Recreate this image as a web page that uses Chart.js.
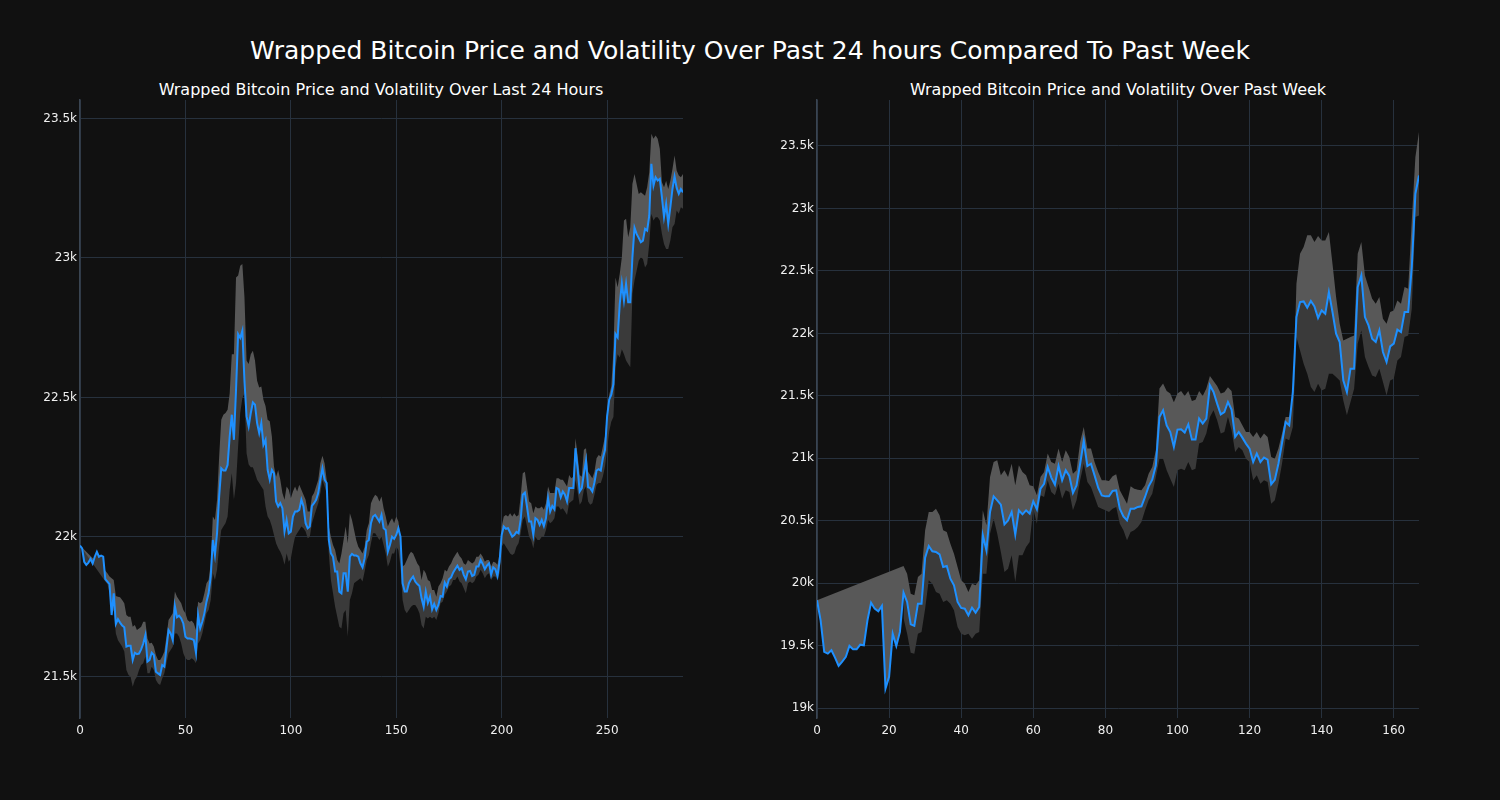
<!DOCTYPE html>
<html>
<head>
<meta charset="utf-8">
<script src="https://cdn.jsdelivr.net/npm/chart.js@4.4.0/dist/chart.umd.min.js"></script>
<style>
  html, body { margin:0; padding:0; background:#111111; }
  #wrap { position:relative; width:1500px; height:800px; background:#111111; overflow:hidden; font-family:"DejaVu Sans", sans-serif; }
  .t { position:absolute; color:#ffffff; white-space:nowrap; transform:translate(-50%,-50%); }
  canvas { position:absolute; top:0; }
</style>
</head>
<body>
<div id="wrap">
  <div class="t" style="left:750px; top:50px; font-size:25px;">Wrapped Bitcoin Price and Volatility Over Past 24 hours Compared To Past Week</div>
  <div class="t" style="left:381px; top:89px; font-size:16px;">Wrapped Bitcoin Price and Volatility Over Last 24 Hours</div>
  <div class="t" style="left:1118px; top:89px; font-size:16px;">Wrapped Bitcoin Price and Volatility Over Past Week</div>
  <canvas id="c1" width="750" height="800" style="left:0px;"></canvas>
  <canvas id="c2" width="750" height="800" style="left:750px;"></canvas>
</div>
<script>
// ---------- Last 24 hours (5-minute steps) ----------
const price24 = [21969,21959,21911,21900,21908,21921,21905,21929,21947,21929,21933,21929,21849,21840,21831,21720,21798,21688,21705,21693,
21682,21676,21607,21610,21610,21559,21585,21580,21582,21597,21618,21648,21553,21559,21585,21577,21517,21511,21505,21541,
21535,21601,21666,21654,21630,21752,21712,21718,21708,21690,21642,21636,21636,21634,21630,21585,21720,21672,21696,21726,
21768,21798,21858,21989,21935,22013,22145,22246,22238,22238,22258,22360,22438,22348,22527,22727,22713,22739,22560,22432,
22396,22444,22482,22474,22408,22372,22408,22330,22348,22240,22205,22240,22228,22127,22109,22121,22103,22019,22061,22013,
22019,22073,22091,22091,22097,22133,22109,22049,22031,22037,22111,22121,22133,22157,22205,22246,22205,22193,21989,21941,
21929,21876,21876,21804,21798,21870,21870,21804,21929,21939,21933,21933,21929,21905,21891,21923,21983,21989,22049,22073,
22079,22067,22055,22079,22031,22025,21947,21971,22001,21993,22007,22031,22001,21834,21804,21804,21834,21848,21858,21840,
21831,21824,21780,21750,21804,21764,21786,21740,21760,21738,21756,21788,21786,21836,21822,21848,21855,21873,21885,21897,
21882,21888,21864,21848,21876,21878,21860,21864,21894,21894,21917,21903,21884,21897,21905,21864,21891,21884,21860,21911,
22007,22037,22029,22031,22016,22001,22007,22018,22013,22061,22151,22159,22109,22055,22055,22007,22067,22061,22043,22061,
22039,22067,22139,22091,22111,22099,22175,22171,22142,22163,22151,22127,22175,22175,22175,22318,22246,22163,22175,22228,
22274,22178,22175,22163,22195,22238,22243,22238,22282,22312,22432,22492,22510,22548,22727,22715,22835,22909,22847,22907,
22841,22841,23002,23108,23086,23072,23056,23062,23104,23098,23152,23337,23259,23289,23277,23283,23218,23146,23194,23122,
23182,23247,23292,23251,23230,23247,23235];

const upper24 = [21969,null,null,null,null,null,null,null,null,null,null,null,21879,21870,21858,21852,21846,21788,21786,21784,
21774,21762,21720,21714,21714,21678,21684,21666,21672,21678,21696,21696,21636,21618,21621,21607,21577,21559,21559,21571,
21589,21642,21702,21714,21726,21804,21786,21774,21762,21738,21726,21702,21696,21700,21690,21666,21768,21762,21768,21798,
21834,21846,21906,22073,22061,22133,22288,22420,22438,22444,22456,22515,22655,22655,22930,22937,22972,22978,22859,22632,
22620,22655,22667,22632,22560,22536,22539,22492,22469,22420,22415,22360,22252,22216,22240,22205,22157,22133,22181,22169,
22139,22163,22181,22163,22187,22169,22151,22133,22091,22091,22145,22157,22181,22205,22264,22291,22264,22205,22037,22001,
21971,21953,21917,21905,21941,21989,22037,21977,22085,22061,22025,21989,21965,21953,21941,21965,22025,22049,22121,22139,
22151,22145,22127,22145,22103,22073,22037,22055,22067,22049,22073,22055,22001,21894,21900,21917,21935,21947,21941,21923,
21905,21894,21846,21882,21870,21846,21840,21810,21810,21786,21822,21834,21852,21882,21876,21894,21905,21923,21935,21947,
21932,21923,21905,21900,21917,21911,21905,21911,21929,21929,21941,21929,21911,21917,21917,21894,21911,21908,21900,21941,
22037,22073,22079,22073,22085,22073,22085,22073,22079,22145,22228,22234,22181,22127,22121,22085,22109,22103,22103,22109,
22097,22121,22181,22157,22157,22157,22210,22210,22205,22205,22193,22181,22222,22210,22216,22354,22294,22222,22216,22312,
22318,22234,22222,22210,22234,22282,22294,22288,22324,22360,22450,22510,22540,22667,22930,22895,22943,23002,23134,23140,
23074,23110,23265,23301,23265,23229,23235,23229,23223,23253,23307,23445,23427,23439,23427,23391,23271,23253,23277,23247,
23277,23319,23367,23313,23295,23289,23301];

const lower24 = [21969,null,null,null,null,null,null,null,null,null,null,null,21840,21831,21798,21720,21738,21654,21630,21618,
21606,21589,21523,21505,21499,21463,21487,21499,21523,21541,21547,21571,21511,21511,21535,21523,21487,21475,21469,21493,
21511,21547,21583,21595,21606,21654,21654,21642,21618,21583,21565,21559,21559,21565,21559,21547,21618,21630,21654,21690,
21726,21738,21774,21870,21846,21882,21965,22025,22037,22049,22073,22169,22228,22133,22193,22324,22444,22497,22515,22300,
22260,22250,22250,22228,22205,22193,22181,22169,22109,22073,22061,22037,22007,21977,21959,21947,21929,21900,21941,21911,
21923,21965,22001,22013,22025,22037,22031,22019,21995,22001,22049,22073,22097,22121,22157,22205,22181,22157,21941,21846,
21798,21750,21714,21678,21672,21726,21738,21642,21774,21798,21834,21840,21846,21852,21840,21876,21917,21935,21977,22013,
22013,22001,21989,22001,21971,21941,21893,21911,21941,21941,21965,21953,21893,21774,21738,21726,21738,21750,21756,21756,
21744,21726,21684,21672,21714,21708,21714,21708,21714,21702,21726,21762,21768,21792,21804,21822,21828,21846,21846,21858,
21840,21834,21816,21798,21834,21840,21834,21840,21858,21864,21882,21870,21852,21864,21870,21846,21858,21858,21846,21870,
21965,21977,21965,21953,21941,21935,21941,21965,21977,22013,22061,22073,22037,22001,21989,21959,22001,21989,21989,22001,
22001,22025,22061,22049,22055,22067,22109,22109,22097,22103,22091,22079,22121,22127,22133,22205,22163,22115,22127,22169,
22181,22127,22115,22121,22151,22187,22193,22193,22217,22252,22312,22378,22414,22430,22608,22655,22643,22673,22655,22632,
22620,22608,22871,22919,22954,22990,23002,22996,22966,22978,23050,23158,23134,23146,23146,23134,23086,23050,23032,23032,
23062,23110,23122,23170,23158,23182,23176];

// ---------- Past week (hourly steps) ----------
const priceWeek = [19864,19704,19451,19437,19464,19405,19339,19373,19411,19499,19472,19472,19509,19504,19704,19845,19797,19776,19819,19157,
19251,19597,19499,19611,19925,19851,19672,19659,19837,19837,20205,20299,20256,20251,20232,20131,20139,20037,19984,19851,
19803,19797,19744,19805,19765,19811,20384,20264,20571,20696,20664,20630,20472,20504,20571,20389,20584,20552,20584,20557,
20656,20592,20757,20797,20931,20846,20789,20939,20824,20904,20859,20723,20784,20957,21139,20939,20957,20864,20765,20704,
20696,20696,20739,20744,20597,20536,20504,20597,20597,20611,20616,20691,20776,20829,20944,21331,21384,21264,21211,21091,
21230,21232,21206,21272,21150,21150,21318,21278,21318,21584,21531,21438,21352,21371,21451,21390,21171,21211,21166,21118,
21078,20971,21038,20971,21006,20990,20792,20829,20957,21123,21291,21264,21531,22131,22251,22256,22206,22259,22216,22123,
22184,22158,22331,22171,21998,21931,21624,21531,21718,21718,22371,22464,22131,22064,21958,21931,22024,21851,21771,21896,
21918,22030,22011,22171,22171,22531,23118,23264];

const upperWeek = [19864,null,null,null,null,null,null,null,null,null,null,null,null,null,null,null,null,null,null,null,
null,null,null,null,20139,20077,19917,19904,20051,20077,20424,20571,20571,20597,20544,20424,20411,20317,20237,20131,
20024,19997,19931,19997,19984,20024,20584,20464,20851,20971,20984,20864,20904,20851,20957,20784,20944,20891,20864,20784,
20776,20704,20851,20891,21038,20971,20957,21078,20971,21064,21011,20877,20904,21131,21251,21078,21078,20971,20891,20824,
20824,20819,20856,20872,20744,20691,20637,20776,20757,20749,20744,20784,20877,20931,21064,21560,21600,21540,21520,21450,
21520,21540,21500,21540,21460,21470,21540,21500,21560,21660,21620,21580,21520,21530,21570,21540,21331,21318,21264,21211,
21211,21171,21211,21158,21198,21171,21011,20997,21078,21198,21331,21331,21411,22398,22638,22691,22785,22785,22731,22779,
22744,22744,22811,22558,22291,22078,21944,21958,21971,21984,22638,22731,22464,22371,22278,22238,22291,22118,22078,22171,
22184,22264,22238,22371,22358,22904,23411,23611];

const lowerWeek = [null,null,null,null,null,null,null,null,null,null,null,null,null,null,null,null,null,null,null,null,
null,null,null,null,19720,19597,19445,19437,19597,19611,19797,20024,19997,19931,19917,19851,19864,19837,19784,19651,
19597,19584,19597,19557,19597,19611,20077,20077,20397,20517,20397,20251,20091,20117,20224,20011,20224,20224,20291,20331,
20597,20477,20704,20691,20824,20731,20704,20797,20677,20744,20731,20584,20664,20824,20957,20811,20771,20691,20611,20597,
20584,20571,20597,20611,20477,20424,20344,20411,20424,20451,20491,20584,20664,20717,20851,20997,20997,20904,20837,20771,
20904,20917,20904,20971,20904,20917,21118,21131,21198,21331,21384,21304,21198,21211,21331,21224,21051,21091,21064,20997,
20971,20824,20864,20797,20824,20811,20637,20664,20797,20957,21158,21144,21250,21971,21864,21758,21678,21571,21531,21598,
21544,21558,21678,21678,21651,21624,21464,21344,21451,21558,21918,22024,21811,21731,21664,21651,21718,21611,21504,21624,
21638,21784,21811,21971,21984,22198,22931,22944];

// tick values
const ticksY24 = [21500, 22000, 22500, 23000, 23500];
const ticksYWeek = [19000, 19500, 20000, 20500, 21000, 21500, 22000, 22500, 23000, 23500];
const ticksX24 = [0, 50, 100, 150, 200, 250];
const ticksXWeek = [0, 20, 40, 60, 80, 100, 120, 140, 160];

const GRID = '#27313d';
const SPINE = '#3a4552';
const TICK = '#f0f0f0';
const FONT = "'DejaVu Sans', sans-serif";

function pts(arr) { return arr.map((v, i) => ({ x: i, y: v })); }
function kLabel(v) { return (v / 1000) + 'k'; }

function makeChart(id, price, upper, lower, xmax, ymin, ymax, xt, yt, yw, padRight) {
  return new Chart(document.getElementById(id), {
    type: 'line',
    data: {
      datasets: [
        { data: pts(price), borderColor: '#1e90ff', borderWidth: 2, pointRadius: 0, tension: 0, fill: false },
        { data: pts(lower), borderColor: 'rgba(0,0,0,0)', borderWidth: 0, pointRadius: 0, tension: 0,
          spanGaps: true, fill: { target: 0 }, backgroundColor: '#3a3a3a' },
        { data: pts(upper), borderColor: 'rgba(0,0,0,0)', borderWidth: 0, pointRadius: 0, tension: 0,
          spanGaps: true, fill: { target: 0 }, backgroundColor: '#585858' }
      ]
    },
    options: {
      responsive: false, animation: false, devicePixelRatio: 1,
      events: [],
      layout: { padding: { top: 100, right: padRight, left: 0, bottom: 0 } },
      plugins: { legend: { display: false }, tooltip: { enabled: false }, title: { display: false } },
      scales: {
        x: {
          type: 'linear', min: 0, max: xmax,
          afterFit: (s) => { s.height = 82; },
          afterBuildTicks: (s) => { s.ticks = xt.map(v => ({ value: v })); },
          grid: { color: GRID, lineWidth: 1, drawTicks: false },
          border: { display: false },
          ticks: { color: TICK, font: { family: FONT, size: 12 }, padding: 6, maxRotation: 0, callback: (v) => String(v) }
        },
        y: {
          type: 'linear', min: ymin, max: ymax,
          afterFit: (s) => { s.width = yw; },
          afterBuildTicks: (s) => { s.ticks = yt.map(v => ({ value: v })); },
          grid: { color: GRID, lineWidth: 1, drawTicks: false },
          border: { display: true, color: SPINE, width: 1.5 },
          ticks: { color: TICK, font: { family: FONT, size: 12 }, padding: 3, callback: (v) => kLabel(v) }
        }
      }
    }
  });
}

makeChart('c1', price24, upper24, lower24, 286, 21351, 23566, ticksX24, ticksY24, 80, 67);
makeChart('c2', priceWeek, upperWeek, lowerWeek, 167, 18922, 23868, ticksXWeek, ticksYWeek, 67, 81);
</script>
</body>
</html>
